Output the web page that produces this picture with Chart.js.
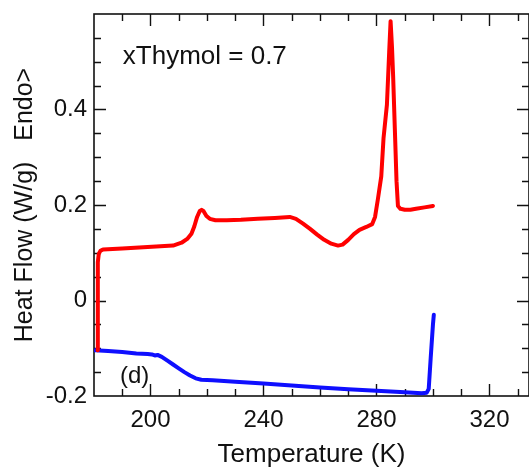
<!DOCTYPE html>
<html>
<head>
<meta charset="utf-8">
<script src="https://cdn.jsdelivr.net/npm/chart.js@4/dist/chart.umd.min.js"></script>
<style>
  html, body { margin: 0; padding: 0; background: #fff; overflow: hidden; }
  canvas { display: block; }
</style>
</head>
<body>
<canvas id="dsc" width="529" height="472"></canvas>
<script>
// heating run (red)
const tempRed = [181.25, 181.3, 181.4, 181.7, 182.3, 183.2, 190, 196, 202, 208, 211, 213, 214.5, 215.5, 216.5, 217.4, 218.1, 218.8, 219.8, 221, 223, 227, 232, 238, 244, 249.3, 251.5, 254, 256.5, 259, 261.5, 264, 266.4, 268, 270, 272, 274, 276.4, 278.5, 279.5, 280.5, 281.7, 282.5, 283.7, 284.5, 285.0, 285.5, 285.9, 286.5, 287.1, 287.6, 288.5, 290, 292, 294, 297, 300];
const heatRed = [-0.104, 0.02, 0.080, 0.098, 0.104, 0.107, 0.109, 0.111, 0.113, 0.115, 0.121, 0.129, 0.140, 0.155, 0.175, 0.187, 0.190, 0.187, 0.177, 0.171, 0.168, 0.168, 0.169, 0.171, 0.173, 0.175, 0.171, 0.161, 0.150, 0.138, 0.127, 0.119, 0.115, 0.117, 0.127, 0.139, 0.148, 0.154, 0.160, 0.175, 0.212, 0.26, 0.34, 0.41, 0.52, 0.585, 0.53, 0.47, 0.36, 0.25, 0.198, 0.192, 0.190, 0.190, 0.192, 0.195, 0.198];

// cooling run (blue)
const tempBlue = [180.4, 185, 190, 195, 199, 200.5, 201.5, 202.5, 204, 206, 208, 210, 212, 214, 216, 218, 222, 230, 240, 250, 260, 270, 280, 290, 296, 297.8, 298.5, 299.2, 300.0, 300.3];
const heatBlue = [-0.104, -0.106, -0.108, -0.111, -0.112, -0.113, -0.115, -0.114, -0.118, -0.126, -0.134, -0.142, -0.150, -0.157, -0.163, -0.166, -0.167, -0.170, -0.174, -0.178, -0.182, -0.186, -0.189, -0.192, -0.194, -0.193, -0.185, -0.12, -0.05, -0.03];

const xTicks = [200, 240, 280, 320];
const yTicks = [-0.2, 0, 0.2, 0.4];
const yLabels = ['-0.2', '0', '0.2', '0.4'];

const pts = (xs, ys) => xs.map((t, i) => ({ x: t, y: ys[i] }));

const FONT = 'Liberation Sans, Arial, sans-serif';
const INK = '#111';

// box frame with inward major/minor ticks, plus the two text notes
const frame = {
  id: 'frame',
  beforeDatasetsDraw(chart) {
    const { ctx, chartArea: { left, right, top, bottom }, scales: { x, y } } = chart;
    ctx.save();
    ctx.strokeStyle = INK;
    ctx.lineWidth = 1.6;
    ctx.strokeRect(left, top, right - left, bottom - top);
    ctx.lineWidth = 1.4;
    ctx.beginPath();
    for (let t = 190; t <= 330; t += 10) {
      const px = Math.round(x.getPixelForValue(t)) + 0.5;
      const len = t % 40 === 0 ? 12 : 7;
      ctx.moveTo(px, bottom); ctx.lineTo(px, bottom - len);
      ctx.moveTo(px, top); ctx.lineTo(px, top + len);
    }
    for (let k = -3; k <= 11; k++) {
      const v = k * 0.05;
      const py = Math.round(y.getPixelForValue(v)) + 0.5;
      const len = k % 4 === 0 ? 12 : 7;
      ctx.moveTo(left, py); ctx.lineTo(left + len, py);
      ctx.moveTo(right, py); ctx.lineTo(right - len, py);
    }
    ctx.stroke();
    ctx.restore();
  },
  afterDatasetsDraw(chart) {
    const { ctx, scales: { x, y } } = chart;
    ctx.save();
    ctx.fillStyle = INK;
    ctx.textBaseline = 'alphabetic';
    ctx.font = '26px ' + FONT;
    ctx.fillText('xThymol = 0.7', x.getPixelForValue(190.2), y.getPixelForValue(0.495));
    ctx.font = '24px ' + FONT;
    ctx.fillText('(d)', x.getPixelForValue(189.2), y.getPixelForValue(-0.172));
    ctx.restore();
  }
};

new Chart(document.getElementById('dsc'), {
  type: 'line',
  data: {
    datasets: [
      { data: pts(tempRed, heatRed), borderColor: 'rgb(255,0,0)', borderWidth: 4, pointRadius: 0, tension: 0, borderJoinStyle: 'round', borderCapStyle: 'round' },
      { data: pts(tempBlue, heatBlue), borderColor: 'rgb(15,15,255)', borderWidth: 4, pointRadius: 0, tension: 0, borderJoinStyle: 'round', borderCapStyle: 'round' }
    ]
  },
  options: {
    responsive: false,
    animation: false,
    layout: { padding: { top: 14, right: 0, bottom: 0, left: 0 } },
    plugins: { legend: { display: false }, tooltip: { enabled: false } },
    scales: {
      x: {
        type: 'linear',
        min: 180,
        max: 334,
        afterBuildTicks: s => { s.ticks = xTicks.map(v => ({ value: v })); },
        afterFit: s => { s.height = 76; s.paddingLeft = 0; s.paddingRight = 0; },
        grid: { display: false, drawTicks: false },
        border: { display: false },
        ticks: { color: INK, font: { family: FONT, size: 24 }, padding: 10, maxRotation: 0 },
        title: { display: true, text: 'Temperature (K)', color: INK, font: { family: FONT, size: 26 }, padding: { top: 0, bottom: 2 } }
      },
      y: {
        type: 'linear',
        min: -0.2,
        max: 0.6,
        afterBuildTicks: s => { s.ticks = yTicks.map(v => ({ value: v })); },
        afterFit: s => { s.width = 94; s.paddingTop = 0; s.paddingBottom = 0; },
        grid: { display: false, drawTicks: false },
        border: { display: false },
        ticks: { color: INK, font: { family: FONT, size: 24 }, padding: 7, callback: (v, i) => yLabels[i] },
        title: { display: true, text: 'Heat Flow (W/g)   Endo>', color: INK, font: { family: FONT, size: 25 }, padding: { top: 10, bottom: 0 } }
      }
    }
  },
  plugins: [frame]
});
</script>
</body>
</html>
